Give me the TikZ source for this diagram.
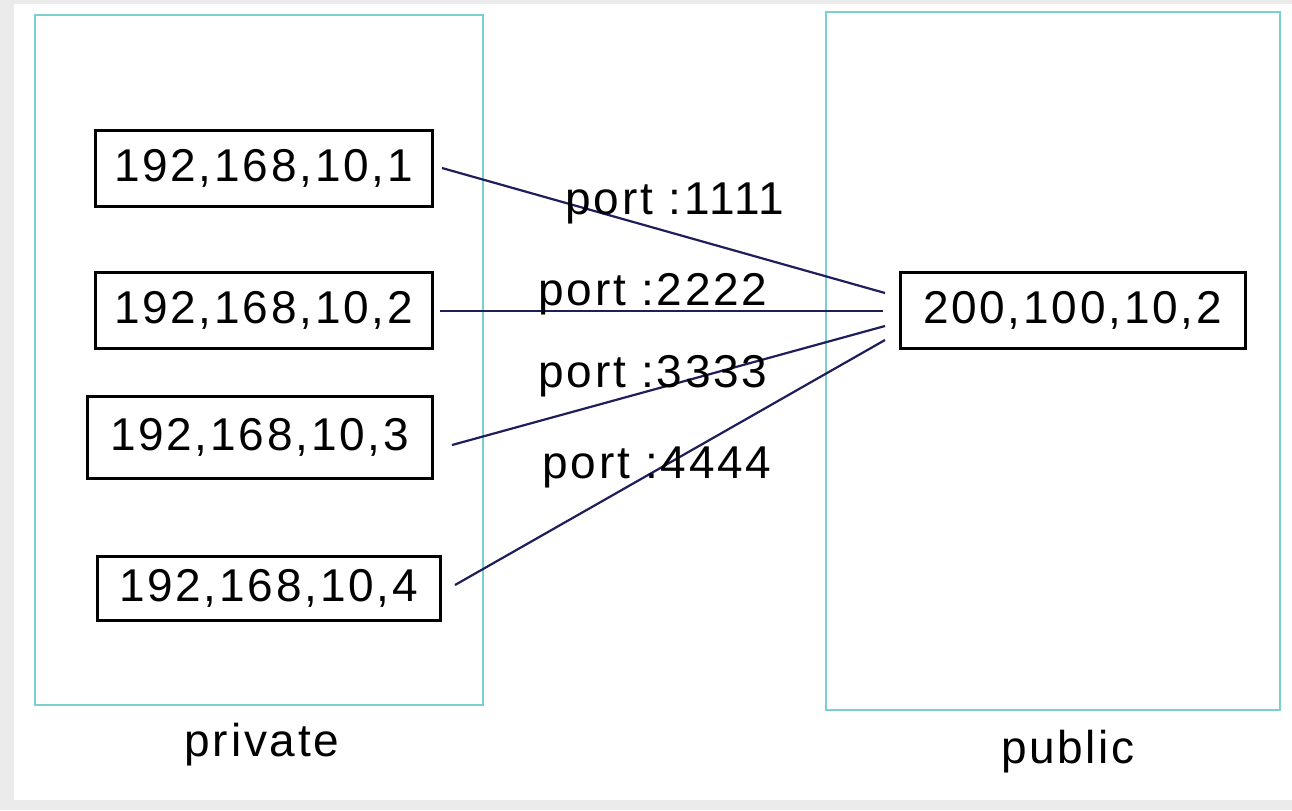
\documentclass[tikz,border=0pt]{standalone}
\usepackage{fontspec}
\setmainfont{Liberation Sans}
\newfontfamily\wfont[LetterSpace=6]{Liberation Sans}
\definecolor{zonecol}{RGB}{122,208,208}
\definecolor{linkcol}{RGB}{30,30,90}
\begin{document}
\begin{tikzpicture}[x=0.5pt,y=-0.5pt,
  zone/.style={draw=zonecol, line width=1.4pt},
  ipbox/.style={draw=black, line width=1.5pt, inner sep=0pt, minimum height=38pt, font=\fontsize{23}{26}\selectfont\wfont},
  portlbl/.style={font=\fontsize{23}{26}\selectfont\wfont, inner sep=0pt},
  zonelbl/.style={font=\fontsize{23}{26}\selectfont\wfont, inner sep=0pt},
  link/.style={draw=linkcol, line width=1.1pt}]
\fill[black!8] (0,0) rectangle (1292,810);
\fill[white] (14,4) rectangle (1292,800);
\useasboundingbox (0,0) rectangle (1292,810);
% zones
\draw[zone] (35,15) rectangle (483,705);
\draw[zone] (826,12) rectangle (1280,710);
\node[zonelbl] (priv) at (262,745) {private};
\node[zonelbl] (pub) at (1068,752) {public};
% ip boxes
\node[ipbox, minimum width=168.5pt] (b1) at (263.5,168) {192,168,10,1};
\node[ipbox, minimum width=168.5pt] (b2) at (263.5,310) {192,168,10,2};
\node[ipbox, minimum width=172.5pt, minimum height=41pt] (b3) at (259.5,437) {192,168,10,3};
\node[ipbox, minimum width=171.5pt, minimum height=32pt] (b4) at (268.5,588) {192,168,10,4};
\node[ipbox, minimum width=172.5pt] (pb) at (1072.5,310) {200,100,10,2};
% connector end points near the public host
\coordinate (e1) at (885,293);
\coordinate (e2) at (883,311);
\coordinate (e3) at (885,326);
\coordinate (e4) at (885,340);
\coordinate (s1) at (442,168);
\coordinate (s2) at (440,311);
\coordinate (s3) at (452,445);
\coordinate (s4) at (455,585);
\draw[link] (s1) -- (e1);
\draw[link] (s2) -- (e2);
\draw[link] (s3) -- (e3);
\draw[link] (s4) -- (e4);
% port labels
\node[portlbl] (p1) at (675,203) {port :1111};
\node[portlbl] (p2) at (653,294) {port :2222};
\node[portlbl] (p3) at (653,376) {port :3333};
\node[portlbl] (p4) at (657,467) {port :4444};
\end{tikzpicture}
\end{document}
